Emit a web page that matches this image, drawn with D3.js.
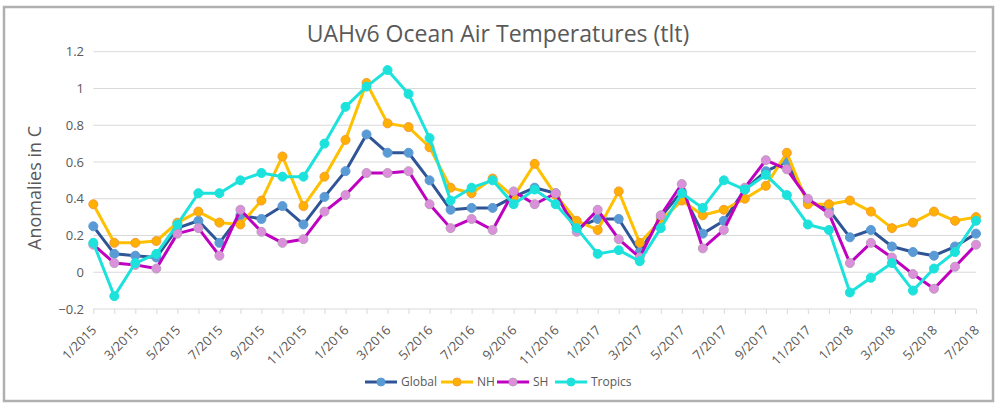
<!DOCTYPE html>
<html>
<head>
<meta charset="utf-8">
<script src="https://cdn.jsdelivr.net/npm/d3@7"></script>
<style>
  body { margin: 0; background: #fff; }
  svg { display: block; font-family: "Open Sans", sans-serif; }
</style>
</head>
<body>
<svg id="chart" width="1000" height="411"></svg>
<script>
// months 1/2015 .. 7/2018
const months = [];
for (let y = 2015; y <= 2018; y++) {
    for (let m = 1; m <= 12; m++) {
        if (y === 2018 && m > 7) break;
        months.push(m + "/" + y);
    }
}

const globalVals = [0.25, 0.10, 0.09, 0.08, 0.24, 0.28, 0.16, 0.31, 0.29, 0.36, 0.26, 0.41,
    0.55, 0.75, 0.65, 0.65, 0.50, 0.34, 0.35, 0.35, 0.41, 0.46, 0.43, 0.24,
    0.29, 0.29, 0.11, 0.30, 0.44, 0.21, 0.28, 0.45, 0.55, 0.60, 0.39, 0.34,
    0.19, 0.23, 0.14, 0.11, 0.09, 0.14, 0.21];
const nhVals = [0.37, 0.16, 0.16, 0.17, 0.27, 0.33, 0.27, 0.26, 0.39, 0.63, 0.36, 0.52,
    0.72, 1.03, 0.81, 0.79, 0.68, 0.46, 0.43, 0.51, 0.41, 0.59, 0.42, 0.28,
    0.23, 0.44, 0.16, 0.28, 0.39, 0.31, 0.34, 0.40, 0.47, 0.65, 0.37, 0.37,
    0.39, 0.33, 0.24, 0.27, 0.33, 0.28, 0.30];
const shVals = [0.15, 0.05, 0.04, 0.02, 0.21, 0.24, 0.09, 0.34, 0.22, 0.16, 0.18, 0.33,
    0.42, 0.54, 0.54, 0.55, 0.37, 0.24, 0.29, 0.23, 0.44, 0.37, 0.43, 0.22,
    0.34, 0.18, 0.08, 0.31, 0.48, 0.13, 0.23, 0.46, 0.61, 0.56, 0.40, 0.32,
    0.05, 0.16, 0.08, -0.01, -0.09, 0.03, 0.15];
const tropicsVals = [0.16, -0.13, 0.05, 0.10, 0.26, 0.43, 0.43, 0.50, 0.54, 0.52, 0.52, 0.70,
    0.90, 1.01, 1.10, 0.97, 0.73, 0.39, 0.46, 0.50, 0.37, 0.45, 0.37, 0.24,
    0.10, 0.12, 0.06, 0.24, 0.43, 0.35, 0.50, 0.45, 0.53, 0.42, 0.26, 0.23,
    -0.11, -0.03, 0.05, -0.10, 0.02, 0.11, 0.28];
const yTicks = [-0.2, 0, 0.2, 0.4, 0.6, 0.8, 1, 1.2];

const series = [
    { name: "Global", values: globalVals, line: "#2f5597", fill: "#5b9bd5", stroke: "#5b9bd5" },
    { name: "NH", values: nhVals, line: "#ffc000", fill: "#ffb000", stroke: "#f59a3a" },
    { name: "SH", values: shVals, line: "#c000c0", fill: "#dc90dc", stroke: "#b8a0b8" },
    { name: "Tropics", values: tropicsVals, line: "#1de2dc", fill: "#1de2dc", stroke: "#1de2dc" }
];

const svg = d3.select("#chart");
const textColor = "#595959";

// рамка
svg.append("rect")
    .attr("x", 4).attr("y", 7)
    .attr("width", 989).attr("height", 394)
    .attr("fill", "#fff")
    .attr("stroke", "#b0b0b0")
    .attr("stroke-width", 2.5);

const x = d3.scalePoint().domain(months).range([93.3, 976]);
const y = d3.scaleLinear().domain([-0.2, 1.2]).range([309, 51.7]);

// сетка
svg.append("g")
    .selectAll("line")
    .data(yTicks)
    .enter().append("line")
    .attr("x1", 93.3).attr("x2", 976)
    .attr("y1", d => y(d)).attr("y2", d => y(d))
    .attr("stroke", "#d9d9d9")
    .attr("stroke-width", 1);

// ось Y
svg.append("g")
    .selectAll("text")
    .data(yTicks)
    .enter().append("text")
    .attr("x", 84)
    .attr("y", d => y(d))
    .attr("dy", "0.35em")
    .attr("text-anchor", "end")
    .style("font-size", "13px")
    .style("fill", textColor)
    .text(d => d3.format("")(d));

// ось X
const xAxis = svg.append("g")
    .attr("transform", `translate(0,${y(-0.2)})`)
    .call(d3.axisBottom(x).tickSize(5).tickFormat(""));
xAxis.select(".domain").remove();
xAxis.selectAll(".tick line").attr("stroke", "#d9d9d9");

svg.append("g")
    .selectAll("text")
    .data(months.filter((d, i) => i % 2 === 0))
    .enter().append("text")
    .attr("transform", d => `translate(${x(d) + 4},${y(-0.2) + 22}) rotate(-45)`)
    .attr("text-anchor", "end")
    .style("font-size", "13px")
    .style("fill", textColor)
    .text(d => d);

// заголовки
svg.append("text")
    .attr("x", 498).attr("y", 42)
    .attr("text-anchor", "middle")
    .style("font-size", "23px")
    .style("fill", textColor)
    .text("UAHv6 Ocean Air Temperatures (tlt)");

svg.append("text")
    .attr("transform", "translate(41,188) rotate(-90)")
    .attr("text-anchor", "middle")
    .style("font-size", "18px")
    .style("fill", textColor)
    .text("Anomalies in C");

// линии и маркеры
const line = d3.line()
    .x((d, i) => x(months[i]))
    .y(d => y(d));

series.forEach(s => {
    const g = svg.append("g");
    g.append("path")
        .datum(s.values)
        .attr("d", line)
        .attr("fill", "none")
        .attr("stroke", s.line)
        .attr("stroke-width", 3)
        .attr("stroke-linejoin", "round");
    g.selectAll("circle")
        .data(s.values)
        .enter().append("circle")
        .attr("cx", (d, i) => x(months[i]))
        .attr("cy", d => y(d))
        .attr("r", 4.5)
        .attr("fill", s.fill)
        .attr("stroke", s.stroke)
        .attr("stroke-width", 1);
});

// легенда
const legendX = [365, 441, 497, 555];
const legend = svg.append("g")
    .selectAll("g")
    .data(series)
    .enter().append("g")
    .attr("transform", (d, i) => `translate(${legendX[i]},382)`);
legend.append("line")
    .attr("x1", 0).attr("x2", 32)
    .attr("stroke", d => d.line)
    .attr("stroke-width", 3);
legend.append("circle")
    .attr("cx", 16).attr("r", 4)
    .attr("fill", d => d.fill)
    .attr("stroke", d => d.stroke);
legend.append("text")
    .attr("x", 36)
    .attr("dy", "0.35em")
    .style("font-size", "12px")
    .style("fill", textColor)
    .text(d => d.name);
</script>
</body>
</html>
